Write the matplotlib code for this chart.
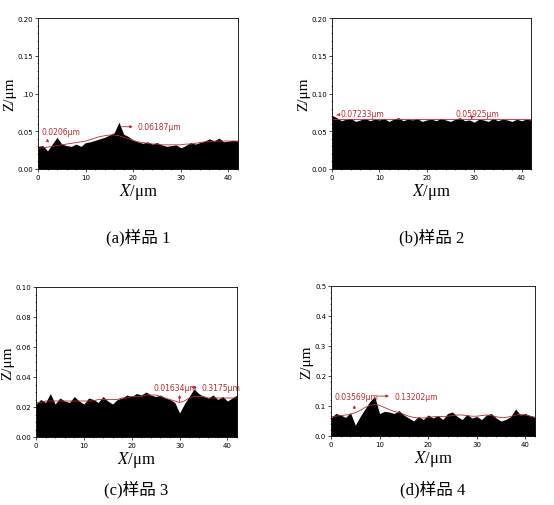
import numpy as np
import matplotlib
matplotlib.use("Agg")
import matplotlib.pyplot as plt
plt.rcParams['mathtext.fontset'] = 'stix'

x = np.arange(43)
za = [0.030,0.031,0.024,0.033,0.042,0.033,0.031,0.030,0.033,0.030,0.035,0.036,0.038,0.040,0.042,0.045,0.048,0.062,0.046,0.043,0.038,0.036,0.034,0.036,0.033,0.035,0.032,0.030,0.031,0.032,0.028,0.031,0.035,0.033,0.035,0.037,0.040,0.037,0.041,0.036,0.037,0.038,0.037]
ta = [0.027,0.028,0.029,0.030,0.031,0.032,0.033,0.034,0.035,0.036,0.037,0.039,0.041,0.043,0.044,0.045,0.045,0.044,0.042,0.040,0.038,0.036,0.035,0.034,0.033,0.033,0.032,0.032,0.032,0.032,0.032,0.033,0.033,0.034,0.035,0.036,0.036,0.037,0.037,0.037,0.037,0.037,0.037]
zb = [0.071,0.068,0.064,0.066,0.067,0.063,0.065,0.067,0.064,0.066,0.065,0.067,0.063,0.066,0.068,0.064,0.066,0.065,0.067,0.063,0.065,0.066,0.064,0.067,0.065,0.063,0.066,0.068,0.064,0.065,0.062,0.066,0.065,0.063,0.067,0.064,0.066,0.065,0.063,0.066,0.064,0.066,0.065]
tb = [0.066]*43
zc = [0.022,0.025,0.023,0.029,0.022,0.026,0.024,0.023,0.027,0.024,0.022,0.026,0.025,0.023,0.027,0.024,0.022,0.025,0.026,0.028,0.027,0.029,0.028,0.030,0.028,0.027,0.028,0.026,0.025,0.023,0.016,0.022,0.027,0.032,0.029,0.027,0.026,0.028,0.025,0.027,0.024,0.026,0.028]
tc = [0.023,0.023,0.024,0.024,0.024,0.024,0.024,0.024,0.024,0.024,0.024,0.024,0.024,0.025,0.025,0.025,0.025,0.025,0.026,0.026,0.027,0.027,0.027,0.028,0.028,0.028,0.027,0.026,0.025,0.024,0.023,0.024,0.026,0.027,0.027,0.027,0.026,0.026,0.026,0.026,0.026,0.026,0.026]
zd = [0.060,0.075,0.070,0.062,0.078,0.036,0.065,0.090,0.115,0.132,0.075,0.082,0.080,0.075,0.085,0.070,0.060,0.050,0.065,0.055,0.070,0.060,0.068,0.055,0.075,0.080,0.065,0.055,0.072,0.060,0.065,0.055,0.070,0.075,0.060,0.050,0.055,0.065,0.090,0.070,0.075,0.068,0.062]
td = [0.065,0.066,0.068,0.070,0.072,0.078,0.085,0.095,0.102,0.105,0.102,0.095,0.088,0.082,0.078,0.072,0.066,0.062,0.060,0.060,0.062,0.064,0.065,0.065,0.066,0.068,0.070,0.070,0.068,0.066,0.066,0.068,0.070,0.068,0.064,0.062,0.062,0.065,0.070,0.072,0.070,0.066,0.063]

# (text, text_xy, arrow_tail, arrow_head)
panels = [
    (za, ta, 0.20, [0, 0.05, 0.10, 0.15, 0.20], ['0.00', '0.05', '.10', '0.15', '0.20'], "(a)样品 1",
     [("0.0206μm", (0.8, 0.050), (2, 0.034), (2, 0.044)),
      ("0.06187μm", (21, 0.056), (17, 0.056), (20.5, 0.056))]),
    (zb, tb, 0.20, [0, 0.05, 0.10, 0.15, 0.20], ['0.00', '0.05', '0.10', '0.15', '0.20'], "(b)样品 2",
     [("0.07233μm", (1.8, 0.073), (1.6, 0.072), (0.4, 0.071)),
      ("0.05925μm", (26, 0.073), (29.5, 0.070), (29.5, 0.066))]),
    (zc, tc, 0.10, [0, 0.02, 0.04, 0.06, 0.08, 0.10], ['0.00', '0.02', '0.04', '0.06', '0.08', '0.10'], "(c)样品 3",
     [("0.01634μm", (24.5, 0.033), (30, 0.021), (30, 0.030)),
      ("0.3175μm", (34.5, 0.033), (32, 0.033), (34.2, 0.033))]),
    (zd, td, 0.5, [0, 0.1, 0.2, 0.3, 0.4, 0.5], ['0.0', '0.1', '0.2', '0.3', '0.4', '0.5'], "(d)样品 4",
     [("0.03569μm", (0.8, 0.133), (4.8, 0.085), (4.8, 0.112)),
      ("0.13202μm", (13, 0.133), (9, 0.133), (12.5, 0.133))]),
]

fig = plt.figure(figsize=(5.54, 5.06), dpi=100)
pos = [(38, 19, 200, 151), (332, 19, 199, 151), (36, 288, 201, 150), (331, 287, 204, 150)]
capy = [238, 238, 490, 490]
red = '#c0282d'
for (z, t, ymax, yt, ytl, cap, ann), (px, py, pw, ph), cy in zip(panels, pos, capy):
    ax = fig.add_axes([px/554, 1-(py+ph)/506, pw/554, ph/506])
    ax.fill_between(x, 0, z, color='black', lw=0)
    ax.plot(x, t, color=red, lw=0.6)
    ax.set_xlim(0, 42); ax.set_ylim(0, ymax)
    ax.set_xticks([0, 10, 20, 30, 40])
    ax.set_yticks(yt); ax.set_yticklabels(ytl)
    ax.minorticks_on()
    ax.tick_params(labelsize=5, length=2, width=0.5, pad=1.5)
    ax.tick_params(which='minor', length=1, width=0.4)
    for s in ax.spines.values(): s.set_linewidth(0.6)
    ax.set_xlabel("$X$/μm", fontsize=12, family='Liberation Serif', labelpad=1)
    ax.set_ylabel("Z/μm", fontsize=11, family='Liberation Serif', labelpad=1)
    for txt, txy, tail, head in ann:
        ax.text(txy[0], txy[1], txt, fontsize=5.5, color=red, va='center', ha='left')
        ax.annotate('', xy=head, xytext=tail,
                    arrowprops=dict(arrowstyle='-|>', color=red, lw=0.6, mutation_scale=4))
    fig.text((px + pw/2)/554, 1-cy/506, cap, ha='center', va='center', fontsize=12,
             family=['Liberation Serif', 'Noto Sans CJK SC'])
fig.savefig("out.png", dpi=100)
